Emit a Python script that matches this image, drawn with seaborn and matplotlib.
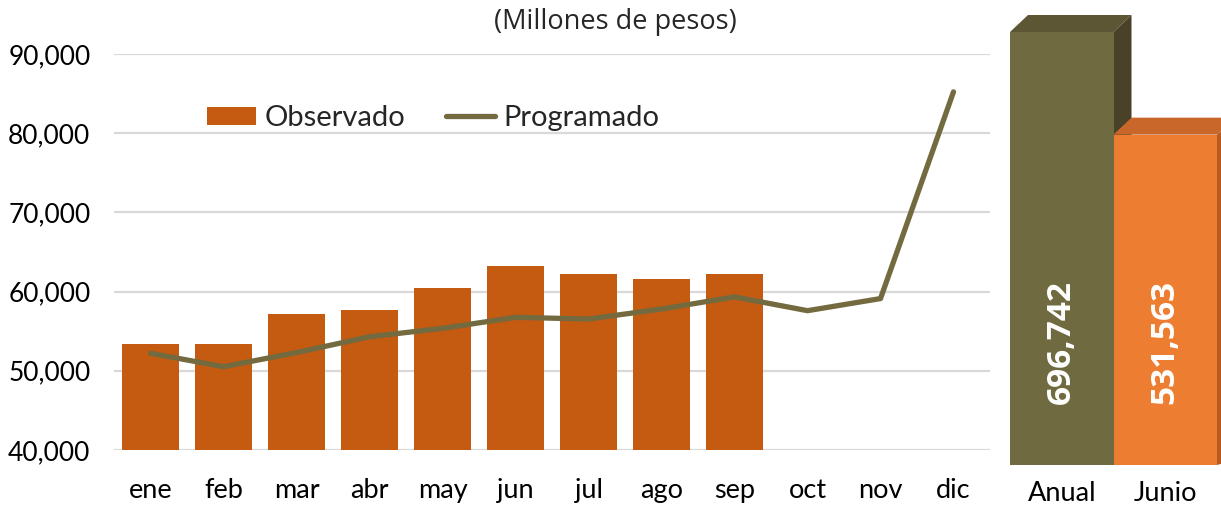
import numpy as np
import pandas as pd
import matplotlib
matplotlib.use("Agg")
import matplotlib.pyplot as plt
from matplotlib.patches import Polygon, Patch
from matplotlib.lines import Line2D
import seaborn as sns

# ---------------- data ----------------
meses = ["ene", "feb", "mar", "abr", "may", "jun", "jul", "ago", "sep", "oct", "nov", "dic"]
observado = [53350, 53350, 57130, 57640, 60420, 63190, 62180, 61630, 62180]
programado = [52210, 50520, 52300, 54300, 55360, 56750, 56540, 57800, 59330, 57590, 59120, 85220]
yticks = [40000, 50000, 60000, 70000, 80000, 90000]
resumen_cat = ["Anual", "Junio"]
resumen_val = [696742, 531563]
titulo = "(Millones de pesos)"

# ---------------- style ----------------
sns.set_theme(style="white")
plt.rcParams["font.family"] = ["Lato", "DejaVu Sans"]
OPEN = ["Open Sans", "DejaVu Sans"]

C_OBS = "#C55A11"
C_PROG = "#736A3F"
C_GRID = "#D9D9D9"
C_ANUAL = ["#706A40", "#5C5634", "#494229"]   # front, top, side
C_JUNIO = ["#ED7D31", "#C9662A", "#B65A1F"]

W, H = 1221, 505
fig = plt.figure(figsize=(W / 100, H / 100), dpi=100)

# main axes: x 114..990 px, y 54..450 px
ax = fig.add_axes([114 / W, 1 - 450 / H, 876 / W, 396 / H])

df_obs = pd.DataFrame({"mes": meses[:len(observado)], "valor": observado})
sns.barplot(data=df_obs, x="mes", y="valor", order=meses, color=C_OBS,
            width=0.77, saturation=1, ax=ax, zorder=2, linewidth=0)
df_prog = pd.DataFrame({"pos": np.arange(len(programado)), "valor": programado})
sns.lineplot(data=df_prog, x="pos", y="valor", color=C_PROG, linewidth=3.8,
             ax=ax, zorder=3, solid_capstyle="round", solid_joinstyle="round")

ax.set_ylim(yticks[0], yticks[-1])
ax.set_xlim(-0.5, len(meses) - 0.5)
ax.set_yticks(yticks)
ax.set_yticklabels([f"{v:,}" for v in yticks], fontsize=19)
ax.set_xticks(range(len(meses)))
ax.set_xticklabels(meses, fontsize=19.5)
ax.set_xlabel("")
ax.set_ylabel("")
ax.yaxis.grid(True, color=C_GRID, linewidth=1.6, zorder=0)
ax.set_axisbelow(True)
ax.tick_params(axis="y", length=0, pad=17, labelcolor="#000000")
ax.tick_params(axis="x", length=0, pad=20, labelcolor="#000000")
for s in ax.spines.values():
    s.set_visible(False)
for ln in ax.lines:
    ln.set_clip_on(False)

handles = [Patch(facecolor=C_OBS, edgecolor="none"),
           Line2D([0], [0], color=C_PROG, linewidth=3.8, solid_capstyle="round")]
ax.legend(handles, ["Observado", "Programado"], loc="center left",
          bbox_to_anchor=(0.106, 0.838), ncol=2, frameon=False, fontsize=21,
          handlelength=1.7, handleheight=0.6, handletextpad=0.27, columnspacing=1.4,
          borderaxespad=0, borderpad=0)

fig.text(615 / W, 1 - 22 / H, titulo, ha="center", va="center", fontsize=19.5, family=OPEN)

# ---------------- right panel: pseudo-3D bars ----------------
ax2 = fig.add_axes([990 / W, 1 - 465 / H, 231 / W, 465 / H])
ymax2 = resumen_val[0] * 465 / 433
unit_px = 103.5
xl = (-0.5 - 20 / unit_px, -0.5 - 20 / unit_px + 231 / unit_px)
df_res = pd.DataFrame({"cat": resumen_cat, "valor": resumen_val})
sns.barplot(data=df_res, x="cat", y="valor", hue="cat", palette=[C_ANUAL[0], C_JUNIO[0]],
            width=1.0, saturation=1, ax=ax2, legend=False, linewidth=0)
ax2.set_ylim(0, ymax2)
ax2.set_xlim(*xl)

dx = 18 / unit_px
dy = 17 * ymax2 / 465
faces = [C_ANUAL, C_JUNIO]
bars = sorted(ax2.patches, key=lambda p: p.get_x())
for i, p in enumerate(bars):
    x0, w, h = p.get_x(), p.get_width(), p.get_height()
    z = 1 + 2 * i
    p.set_zorder(z + 1)
    p.set_linewidth(0)
    top = Polygon([(x0, h), (x0 + dx, h + dy), (x0 + w + dx, h + dy), (x0 + w, h)],
                  closed=True, facecolor=faces[i][1], edgecolor="none", zorder=z + 1)
    side = Polygon([(x0 + w, h), (x0 + w + dx, h + dy), (x0 + w + dx, dy * 0.3), (x0 + w, 0)],
                   closed=True, facecolor=faces[i][2], edgecolor="none", zorder=z)
    ax2.add_patch(side)
    ax2.add_patch(top)
    ax2.text(x0 + w / 2, 198000, f"{resumen_val[i]:,}", rotation=90, ha="center", va="center",
             color="white", fontsize=24, fontweight="bold", family=OPEN, zorder=10)

ax2.set_yticks([])
ax2.set_xticks(range(len(resumen_cat)))
ax2.set_xticklabels(resumen_cat, fontsize=19.5)
ax2.set_xlabel("")
ax2.set_ylabel("")
ax2.tick_params(axis="x", length=0, pad=11.5, labelcolor="#000000")
for s in ax2.spines.values():
    s.set_visible(False)
ax2.patch.set_alpha(0)

fig.savefig("out.png", dpi=100)
